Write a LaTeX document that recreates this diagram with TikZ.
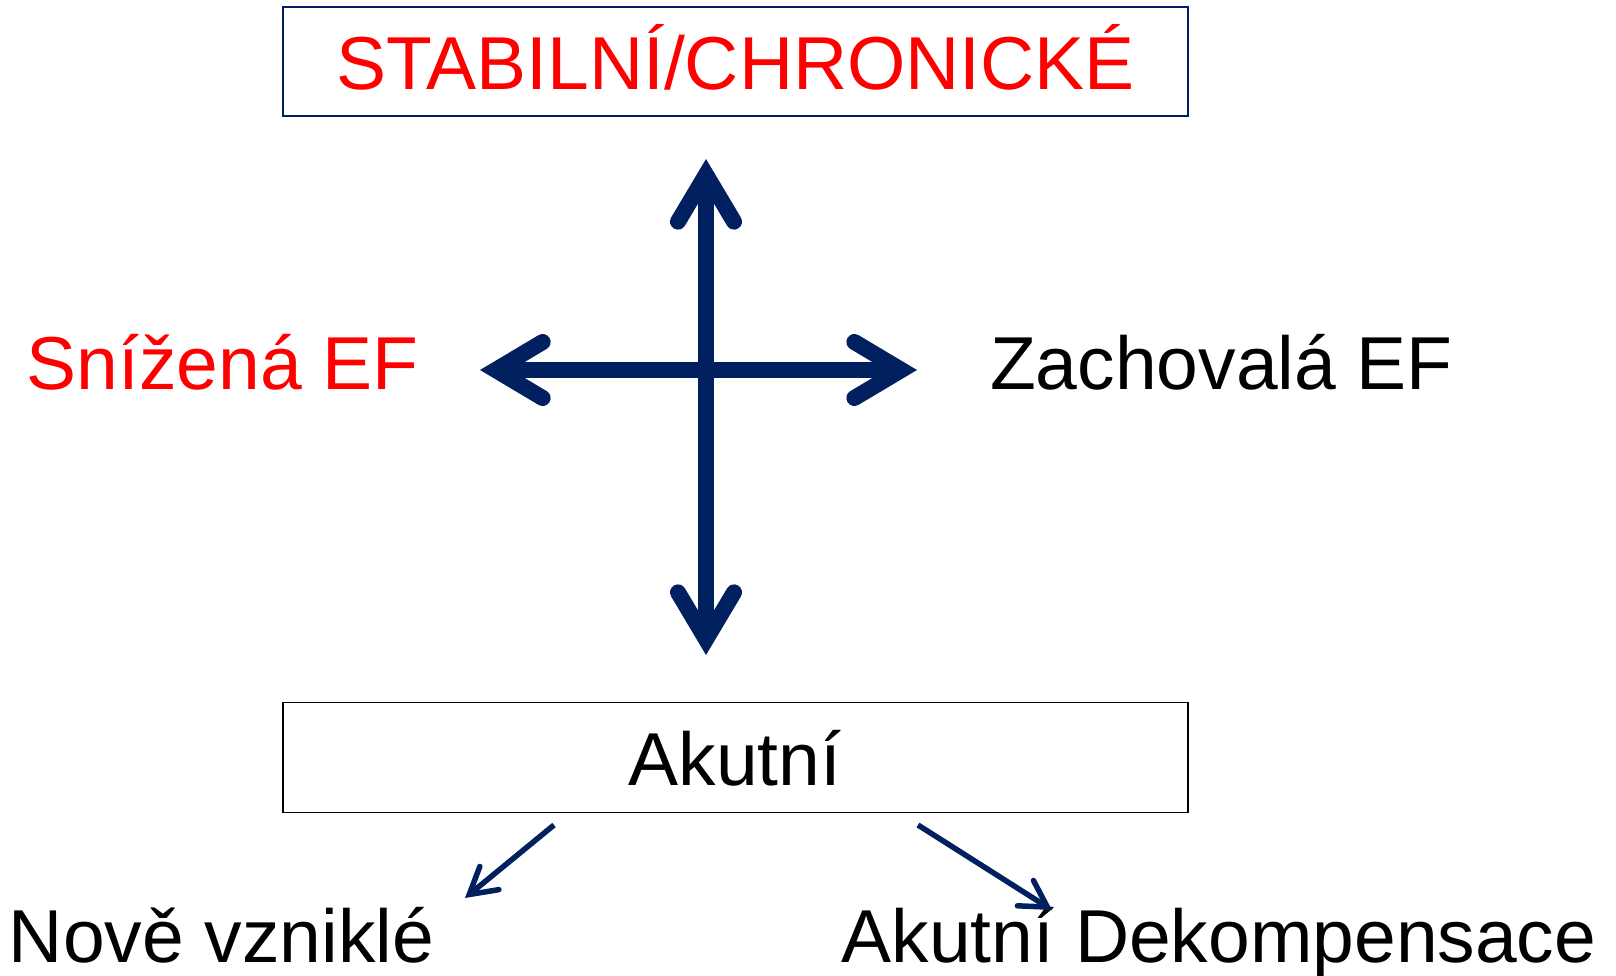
\documentclass[tikz,border=0pt]{standalone}
\usepackage{fontspec}
\setmainfont{Liberation Sans}
\usetikzlibrary{arrows.meta}
\definecolor{navy}{RGB}{0,32,96}
\definecolor{pred}{RGB}{255,0,0}
\tikzset{
  lbl/.style={inner sep=0pt, outer sep=0pt, font=\fontsize{75}{80}\selectfont},
  bigarrow/.style={draw=navy, line width=16pt,
    {Straight Barb[length=47pt, width=56pt, line cap=round, line join=miter]}-{Straight Barb[length=47pt, width=56pt, line cap=round, line join=miter]}},
  thinarrow/.style={draw=navy, line width=5.5pt,
    -{Straight Barb[length=26pt, width=30pt, line cap=round, line join=miter]}},
}
\begin{document}
\begin{tikzpicture}[x=1pt, y=-1pt]
\useasboundingbox (0,0) rectangle (1616,976);
\fill[white] (0,0) rectangle (1616,976);
% boxes
\node[draw=navy, line width=2pt, minimum width=905pt, minimum height=109pt, inner sep=0pt] (stab) at (735.5,62) {};
\node[draw=black, line width=1.5pt, minimum width=905pt, minimum height=110pt, inner sep=0pt] (akut) at (735.5,757.5) {};
% texts
\node[lbl, text=pred, anchor=base] (stabt) at (735.5,90) {STABILNÍ/CHRONICKÉ};
\node[lbl, text=black, anchor=base] (akutt) at (735,785) {Akutní};
\node[lbl, text=pred, anchor=base] (sniz) at (222.5,389) {Snížená EF};
\node[lbl, text=black, anchor=base] (zach) at (1221.5,389) {Zachovalá EF};
\node[lbl, text=black, anchor=base] (nove) at (221.5,962) {Nově vzniklé};
\node[lbl, text=black, anchor=base] (dek) at (1219,962) {Akutní Dekompensace};
% cross
\coordinate (ct) at (706,159);
\coordinate (cb) at (706,655);
\coordinate (cl) at (480,370);
\coordinate (cr) at (917,370);
\draw[bigarrow] (cb) -- (ct);
\draw[bigarrow] (cl) -- (cr);
% thin arrows
\coordinate (l0) at (554,825);
\coordinate (l1) at (465,898);
\coordinate (r0) at (918,825);
\coordinate (r1) at (1052,910);
\draw[thinarrow] (l0) -- (l1);
\draw[thinarrow] (r0) -- (r1);
\end{tikzpicture}
\end{document}
